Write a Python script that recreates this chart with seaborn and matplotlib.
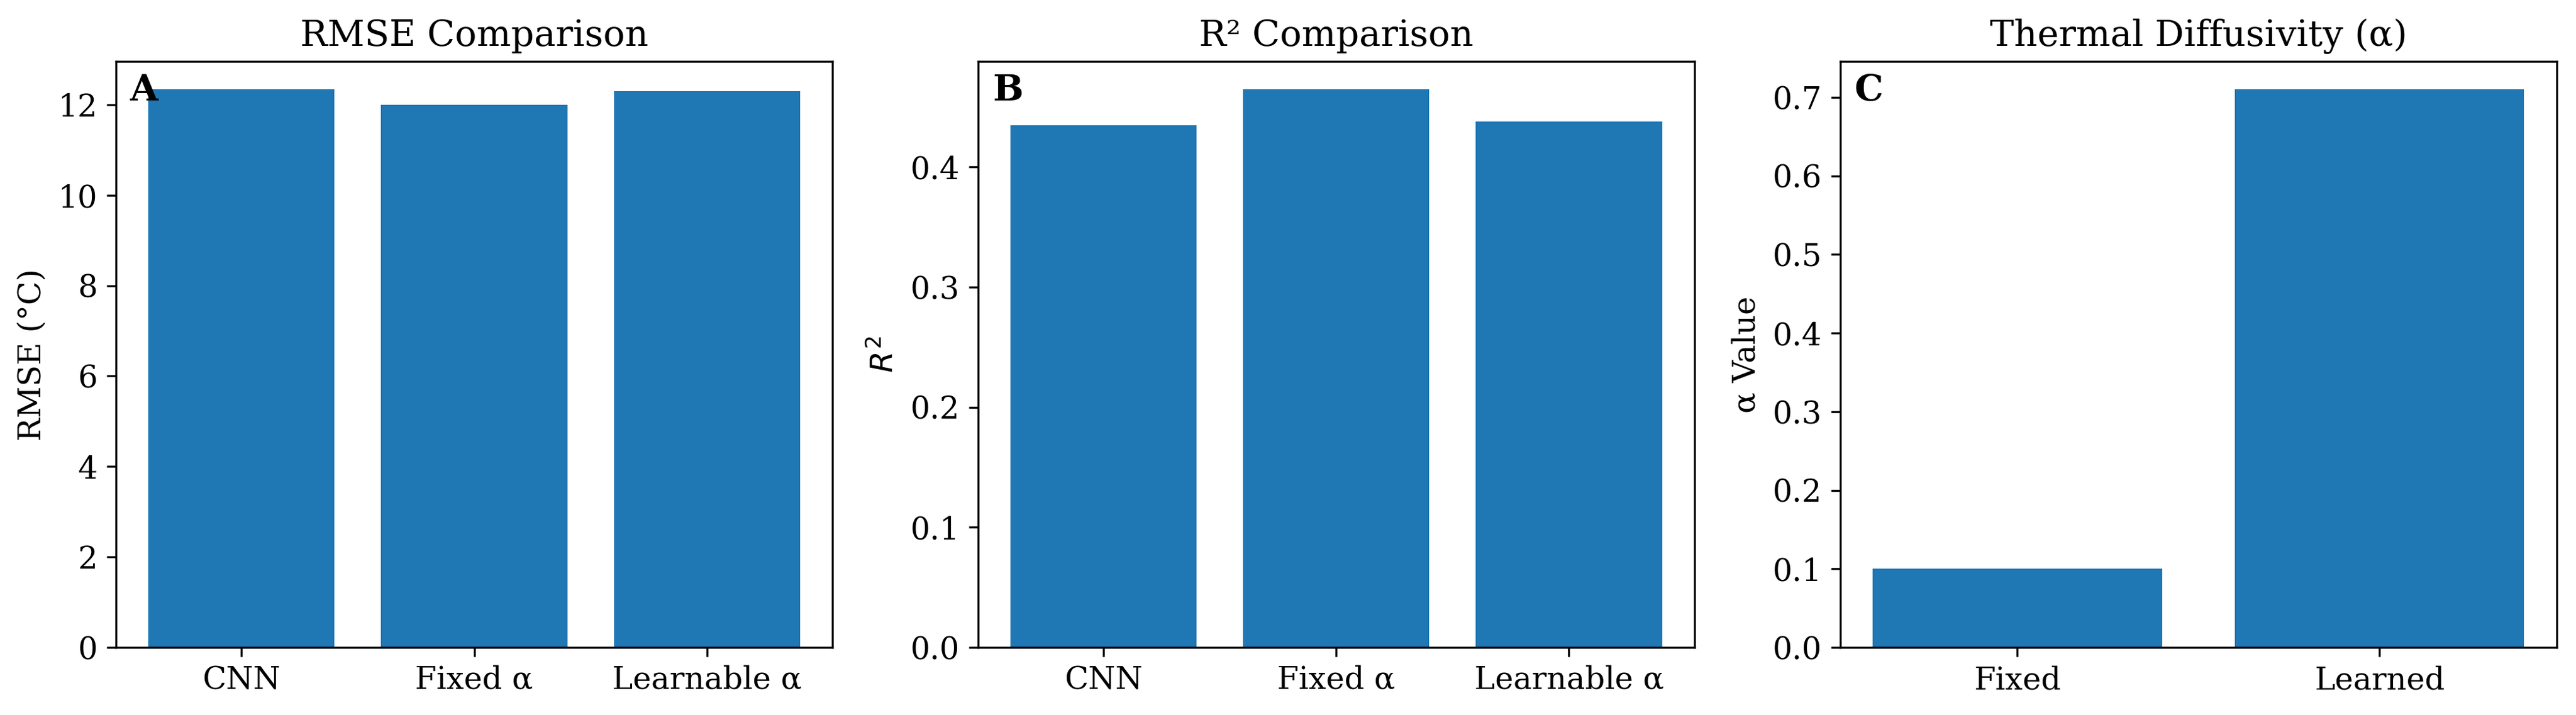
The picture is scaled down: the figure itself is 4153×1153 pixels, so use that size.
import numpy as np
import pandas as pd
import matplotlib
matplotlib.use("Agg")
import matplotlib.pyplot as plt
import seaborn as sns

# --- data ---
models = ["CNN", "Fixed α", "Learnable α"]
rmse_vals = [12.34, 12.00, 12.30]
r2_vals = [0.4347, 0.4646, 0.4378]
alpha_kinds = ["Fixed", "Learned"]
alpha_vals = [0.10, 0.710]

plt.rcParams["font.family"] = ["DejaVu Serif"]
plt.rcParams["font.size"] = 12

bar_color = "#1f77b4"

fig, axes = plt.subplots(1, 3, figsize=(4153 / 300, 1153 / 300), dpi=300)
fig.subplots_adjust(left=0.045, right=0.9925, bottom=0.0945, top=0.914, wspace=0.203)

panels = [
    (models, rmse_vals, "RMSE Comparison", "RMSE (°C)", "A"),
    (models, r2_vals, "R² Comparison", "$R^2$", "B"),
    (alpha_kinds, alpha_vals, "Thermal Diffusivity (α)", "α Value", "C"),
]

for ax, (cats, vals, title, ylab, letter) in zip(axes, panels):
    df = pd.DataFrame({"cat": cats, "val": vals})
    sns.barplot(data=df, x="cat", y="val", ax=ax, color=bar_color,
                saturation=1, width=0.8, errorbar=None)
    n = len(cats)
    pad = 0.05 * (n - 1 + 0.8)
    ax.set_xlim(-0.4 - pad, n - 1 + 0.4 + pad)
    ax.set_ylim(0, max(vals) * 1.05)
    ax.set_title(title, fontsize=14)
    ax.set_xlabel("")
    ax.set_ylabel(ylab, fontsize=12)
    ax.tick_params(labelsize=12)
    ax.text(0.02, 0.98, letter, transform=ax.transAxes, fontsize=14,
            fontweight="bold", va="top", ha="left")

fig.savefig("out.png", dpi=300)
